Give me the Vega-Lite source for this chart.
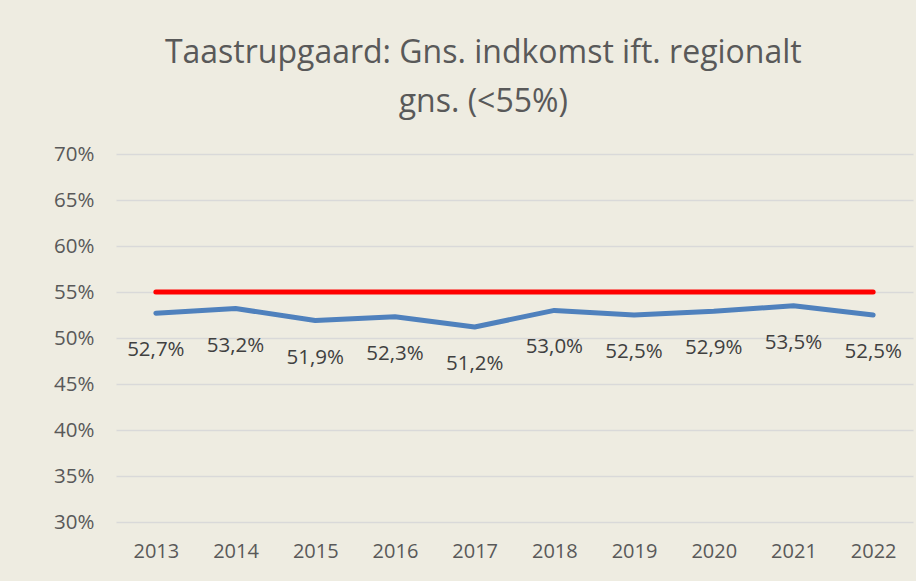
{
  "$schema": "https://vega.github.io/schema/vega-lite/v6.json",
  "width": 797,
  "height": 368,
  "autosize": {"type": "none"},
  "padding": {"left": 116, "top": 154, "right": 3, "bottom": 59},
  "background": "#EEECE1",
  "title": {
    "text": ["Taastrupgaard: Gns. indkomst ift. regionalt", "gns. (<55%)"],
    "anchor": "middle",
    "frame": "bounds",
    "font": "Open Sans",
    "fontSize": 32,
    "fontWeight": "normal",
    "color": "#595959",
    "lineHeight": 49,
    "offset": 25
  },
  "config": {
    "locale": {"number": {"decimal": ",", "thousands": ".", "grouping": [3], "currency": ["", " kr."]}},
    "view": {"stroke": null},
    "axis": {
      "labelFont": "Open Sans",
      "labelFontSize": 20,
      "labelColor": "#595959",
      "ticks": false,
      "domain": false,
      "title": null
    }
  },
  "data": {
    "values": [
      {"year": "2013", "value": 0.527, "target": 0.55},
      {"year": "2014", "value": 0.532, "target": 0.55},
      {"year": "2015", "value": 0.519, "target": 0.55},
      {"year": "2016", "value": 0.523, "target": 0.55},
      {"year": "2017", "value": 0.512, "target": 0.55},
      {"year": "2018", "value": 0.530, "target": 0.55},
      {"year": "2019", "value": 0.525, "target": 0.55},
      {"year": "2020", "value": 0.529, "target": 0.55},
      {"year": "2021", "value": 0.535, "target": 0.55},
      {"year": "2022", "value": 0.525, "target": 0.55}
    ]
  },
  "encoding": {
    "x": {
      "field": "year",
      "type": "ordinal",
      "scale": {"type": "point", "padding": 0.5},
      "axis": {"labelAngle": 0, "labelPadding": 19, "grid": false}
    }
  },
  "layer": [
    {
      "mark": {"type": "line", "color": "#FF0000", "strokeWidth": 5, "strokeCap": "round"},
      "encoding": {
        "y": {
          "field": "target",
          "type": "quantitative",
          "scale": {"domain": [0.3, 0.7]},
          "axis": {"values": [0.3, 0.35, 0.4, 0.45, 0.5, 0.55, 0.6, 0.65, 0.7], "format": ".0%", "labelPadding": 22, "labelFontSize": 20.5, "grid": true, "gridColor": "#D9D9D9", "gridWidth": 1.5}
        }
      }
    },
    {
      "mark": {"type": "line", "color": "#4F81BD", "strokeWidth": 5, "strokeCap": "round", "strokeJoin": "round"},
      "encoding": {
        "y": {"field": "value", "type": "quantitative"}
      }
    },
    {
      "mark": {"type": "text", "font": "Open Sans", "fontSize": 20.5, "color": "#404040", "baseline": "middle", "dy": 37},
      "encoding": {
        "y": {"field": "value", "type": "quantitative"},
        "text": {"field": "value", "type": "quantitative", "format": ".1%"}
      }
    }
  ]
}
